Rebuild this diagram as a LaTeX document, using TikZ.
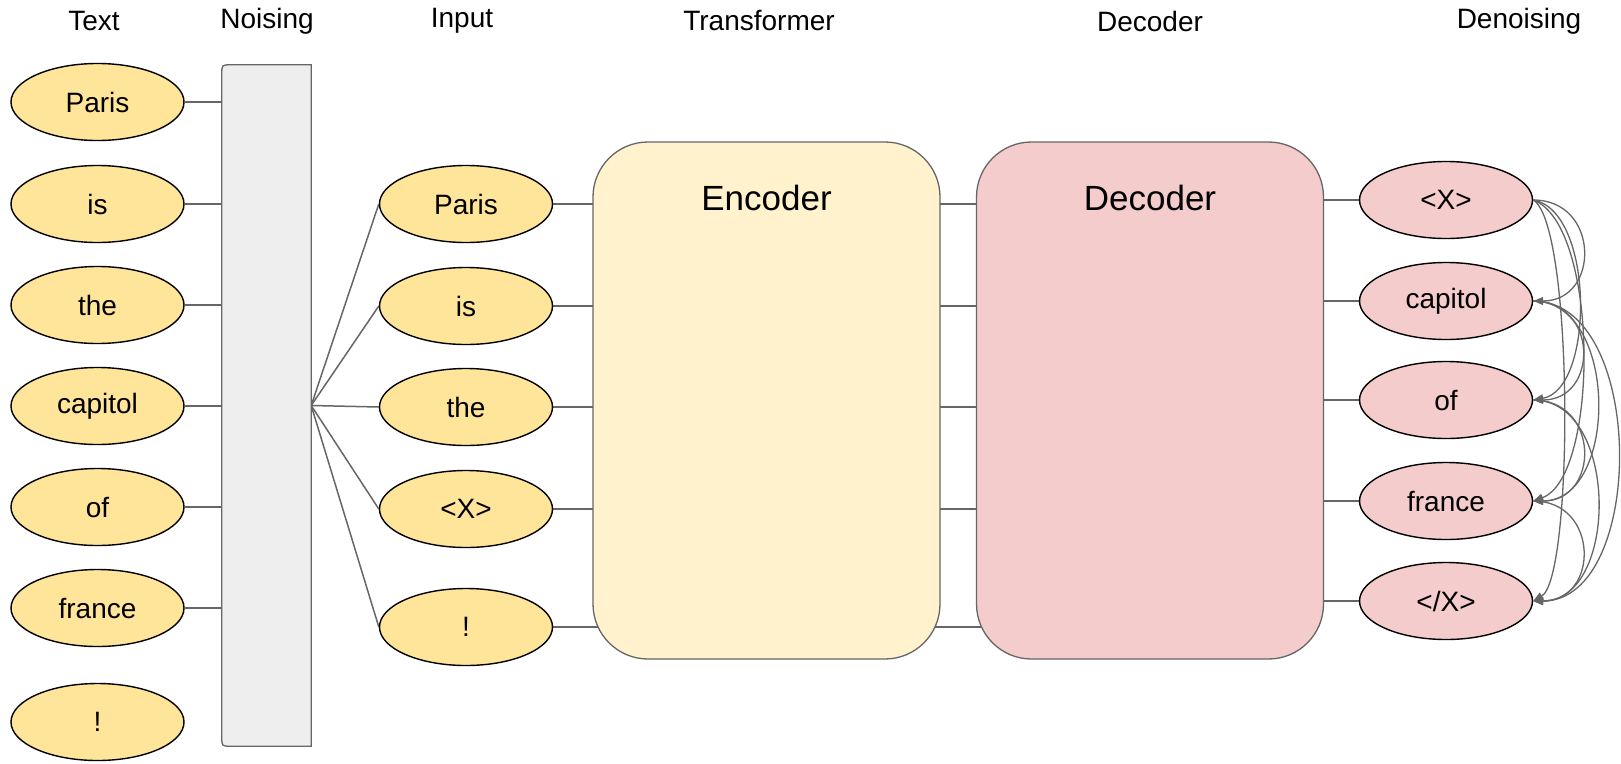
\documentclass[tikz,border=0pt]{standalone}
\usepackage{fontspec}
\setmainfont{Liberation Sans}
\usetikzlibrary{shapes.geometric,arrows.meta,backgrounds}
\definecolor{tokY}{HTML}{FFE599}
\definecolor{encY}{HTML}{FFF2CC}
\definecolor{decR}{HTML}{F4CCCC}
\definecolor{boxG}{HTML}{EEEEEE}
\definecolor{lineG}{HTML}{666666}
\begin{document}
\begin{tikzpicture}[x=1pt,y=-1pt,
  tok/.style={ellipse,draw=black,line width=1.4pt,fill=tokY,minimum width=173pt,minimum height=77pt,inner sep=0pt,font=\fontsize{28}{34}\selectfont},
  outtok/.style={tok,fill=decR},
  hdr/.style={font=\fontsize{28}{34}\selectfont,inner sep=0pt},
  bigtxt/.style={font=\fontsize{35}{42}\selectfont,inner sep=0pt},
  conn/.style={draw=lineG,line width=1.5pt},
  att/.style={draw=lineG,line width=1.3pt,-{Triangle[length=10pt,width=8pt]}},
  bigbox/.style={draw=lineG,line width=1.3pt,rounded corners=55pt,minimum width=347pt,minimum height=517pt,inner sep=0pt}]
\useasboundingbox (0,0) rectangle (1621,763);

% headers
\node[hdr] (hText) at (94,21) {Text};
\node[hdr] (hNoise) at (267,21) {Noising};
\node[hdr] (hInput) at (462,21) {Input};
\node[hdr] (hTrans) at (759,21) {Transformer};
\node[hdr] (hDec) at (1150,21) {Decoder};
\node[hdr] (hDen) at (1519,21) {Denoising};

% noising box
\node[minimum width=89pt,minimum height=681pt,inner sep=0pt] (noise) at (266.5,405.5) {};
\path[fill=boxG,draw=lineG,line width=1.3pt] (noise.north east) -- ([xshift=9pt]noise.north west) .. controls (noise.north west) .. ([yshift=-9pt]noise.north west) -- ([yshift=9pt]noise.south west) .. controls (noise.south west) .. ([xshift=9pt]noise.south west) -- (noise.south east) -- cycle;

% text tokens
\node[tok] (t1) at (97.5,102) {Paris};
\node[tok] (t2) at (97.5,204) {is};
\node[tok] (t3) at (97.5,305) {the};
\node[tok] (t4) at (97.5,406) {capitol};
\node[tok] (t5) at (97.5,507) {of};
\node[tok] (t6) at (97.5,608) {france};
\node[tok] (t7) at (97.5,722) {!};

% input tokens
\node[tok] (i1) at (466,204) {Paris};
\node[tok] (i2) at (466,306) {is};
\node[tok] (i3) at (466,407) {the};
\node[tok] (i4) at (466,509) {<X>};
\node[tok] (i5) at (466,627) {!};

% encoder / decoder
\node[bigbox,fill=encY] (enc) at (766.5,400.5) {};
\node[bigtxt] (encL) at (766.5,197.5) {Encoder};
\node[bigbox,fill=decR] (dec) at (1150,400.5) {};
\node[bigtxt] (decL) at (1150,197.5) {Decoder};

% output tokens
\node[outtok] (o1) at (1446,200) {<X>};
\node[outtok] (o2) at (1446,301) {capitol};
\node[outtok] (o3) at (1446,400) {of};
\node[outtok] (o4) at (1446,501) {france};
\node[outtok] (o5) at (1446,601) {</X>};

\begin{scope}[on background layer]
  \foreach \n in {t1,t2,t3,t4,t5,t6}
    \draw[conn] (\n.east) -- (\n.east -| noise.west);
  \foreach \n in {i1,i2,i3,i4,i5} {
    \draw[conn] (noise.east) -- (\n.west);
    \draw[conn] (\n.east) -- ([xshift=10pt]\n.east -| enc.west);
    \draw[conn] ([xshift=-10pt]\n.east -| enc.east) -- ([xshift=10pt]\n.east -| dec.west);
  }
  \foreach \n in {o1,o2,o3,o4,o5}
    \draw[conn] ([xshift=-10pt]\n.west -| dec.east) -- (\n.west);
\end{scope}

% attention arcs
\draw[att] (o1.east) to[out=0,in=0,looseness=1.7] (o2.east);
\draw[att] (o1.east) to[out=-10,in=10,looseness=0.8] (o3.east);
\draw[att] (o1.east) to[out=-20,in=20,looseness=0.6] (o4.east);
\draw[att] (o1.east) to[out=-30,in=30,looseness=0.3] (o5.east);
\draw[att] (o2.east) to[out=0,in=0,looseness=1.7] (o3.east);
\draw[att] (o2.east) to[out=0,in=0,looseness=1.1] (o4.east);
\draw[att] (o2.east) to[out=0,in=0,looseness=0.97] (o5.east);
\draw[att] (o3.east) to[out=0,in=0,looseness=1.7] (o4.east);
\draw[att] (o3.east) to[out=0,in=0,looseness=1.1] (o5.east);
\draw[att] (o4.east) to[out=0,in=0,looseness=1.7] (o5.east);
\end{tikzpicture}
\end{document}
